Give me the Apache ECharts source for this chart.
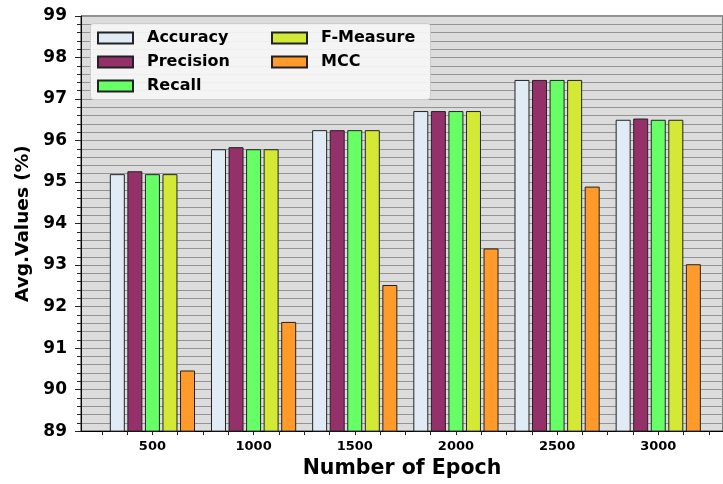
<!DOCTYPE html>
<html>
<head>
<meta charset="utf-8">
<script src="https://cdn.jsdelivr.net/npm/echarts@6/dist/echarts.min.js"></script>
<style>html,body{margin:0;padding:0;background:#fff;overflow:hidden}#c{width:723px;height:484px}</style>
</head>
<body>
<div id="c"></div>
<script>
const categories = ['500', '1000', '1500', '2000', '2500', '3000'];
const seriesNames = ['Accuracy', 'Precision', 'Recall', 'F-Measure', 'MCC'];
const accuracy = [95.19, 95.79, 96.25, 96.71, 97.46, 96.50];
const precision = [95.26, 95.84, 96.25, 96.71, 97.46, 96.53];
const recall = [95.19, 95.79, 96.25, 96.71, 97.46, 96.50];
const fMeasure = [95.19, 95.79, 96.25, 96.71, 97.46, 96.50];
const mcc = [90.46, 91.63, 92.52, 93.40, 94.89, 93.02];
const yTicks = [89, 90, 91, 92, 93, 94, 95, 96, 97, 98, 99];

const colors = ['#e1ebf5', '#94306a', '#66ff66', '#d3e935', '#ff9a2b'];
const allValues = [accuracy, precision, recall, fMeasure, mcc];

const xMin = -0.706, xMax = 5.64;
const tickVals = [];
for (let k = -2; k * 0.25 <= xMax; k++) tickVals.push(k * 0.25);
const labelVals = categories.map((c, i) => i);

const FONT = 'DejaVu Sans';
const chart = echarts.init(document.getElementById('c'));
const series = seriesNames.map((name, s) => ({
  name: name,
  type: 'bar',
  barWidth: 15,
  barGap: '17%',
  clip: true,
  itemStyle: { color: colors[s], borderColor: '#222', borderWidth: 1 },
  data: allValues[s].map((v, i) => [i, v])
}));

const legendText = { fontFamily: FONT, fontWeight: 'bold', fontSize: 16, color: '#000', padding: [0, 0, 0, 9] };

chart.setOption({
  animation: false,
  grid: { left: 81, top: 16, bottom: 49, right: -2, show: true, backgroundColor: '#dcdcdc', borderColor: '#222', borderWidth: 1 },
  xAxis: {
    type: 'value', min: xMin, max: xMax,
    name: 'Number of Epoch', nameLocation: 'middle', nameGap: 26,
    nameTextStyle: { fontFamily: FONT, fontWeight: 'bold', fontSize: 20.5, color: '#000' },
    axisLine: { show: true, onZero: false, lineStyle: { color: '#000', width: 1 } },
    axisTick: { show: true, length: 4, customValues: tickVals, lineStyle: { color: '#222' } },
    axisLabel: { customValues: labelVals, formatter: v => categories[Math.round(v)], margin: 9,
      fontFamily: FONT, fontWeight: 'bold', fontSize: 13, color: '#000' },
    splitLine: { show: false }
  },
  yAxis: {
    type: 'value', min: yTicks[0], max: yTicks[yTicks.length - 1], interval: 1,
    name: 'Avg.Values (%)', nameLocation: 'middle', nameGap: 46,
    nameTextStyle: { fontFamily: FONT, fontWeight: 'bold', fontSize: 18.5, color: '#000' },
    axisLine: { show: true, onZero: false, lineStyle: { color: '#000', width: 1 } },
    axisTick: { show: true, length: 6, lineStyle: { color: '#222' } },
    minorTick: { show: true, splitNumber: 5, length: 4, lineStyle: { color: '#222' } },
    axisLabel: { margin: 14, fontFamily: FONT, fontWeight: 'bold', fontSize: 17, color: '#000' },
    splitLine: { show: true, lineStyle: { color: '#939393', width: 1 } },
    minorSplitLine: { show: true, lineStyle: { color: '#939393', width: 1 } }
  },
  graphic: [{
    type: 'rect', z: 3, left: 90, top: 23,
    shape: { width: 340, height: 76, r: 3 },
    style: { fill: 'rgba(245,245,245,0.92)', stroke: '#cccccc', lineWidth: 1 }
  }],
  legend: [{
    data: seriesNames.slice(0, 3), orient: 'vertical', left: 97, top: 30, padding: 0,
    icon: 'rect', itemWidth: 35, itemHeight: 11, itemGap: 8, z: 5,
    textStyle: legendText
  }, {
    data: seriesNames.slice(3), orient: 'vertical', left: 271, top: 30, padding: 0,
    icon: 'rect', itemWidth: 35, itemHeight: 11, itemGap: 8, z: 5,
    textStyle: legendText
  }],
  series: series
});
</script>
</body>
</html>
